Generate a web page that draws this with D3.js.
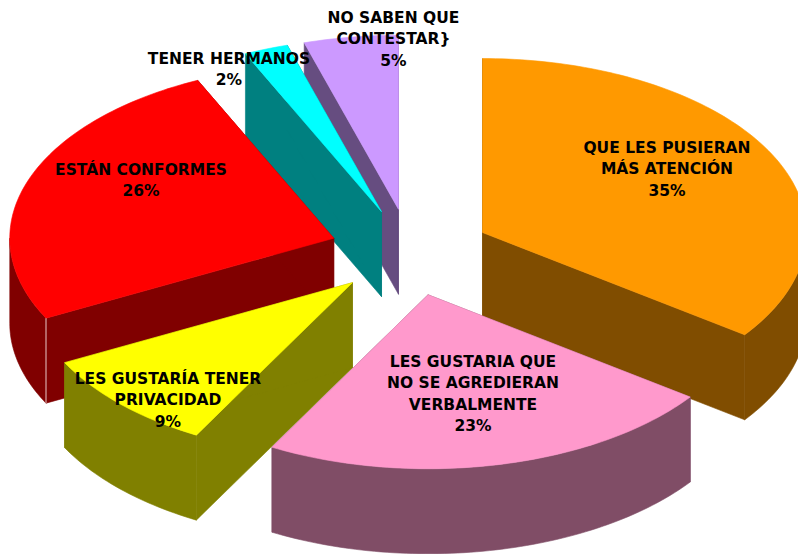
<!DOCTYPE html>
<html><head><meta charset="utf-8">
<script src="https://cdn.jsdelivr.net/npm/d3@7"></script>
<style>html,body{margin:0;padding:0;background:#fff}svg{display:block}
text{font-family:"DejaVu Sans",sans-serif;font-weight:bold;fill:#000;text-anchor:middle}</style>
</head><body><div id="chart"></div>
<script>
// Data
const categories = ["QUE LES PUSIERAN MÁS ATENCIÓN","LES GUSTARIA QUE NO SE AGREDIERAN VERBALMENTE","LES GUSTARÍA TENER PRIVACIDAD","ESTÁN CONFORMES","TENER HERMANOS","NO SABEN QUE CONTESTAR}"];
const values = [35,23,9.4,25.7,2.2,4.7];
const topColors = ["#FF9900","#FF99CC","#FFFF00","#FF0000","#00FFFF","#CC99FF"];
const sideColors = ["#804D00","#804D66","#808000","#800000","#008080","#664D80"];
const labelLines = [["QUE LES PUSIERAN","MÁS ATENCIÓN"],["LES GUSTARIA QUE","NO SE AGREDIERAN","VERBALMENTE"],["LES GUSTARÍA TENER","PRIVACIDAD"],["ESTÁN CONFORMES"],["TENER HERMANOS"],["NO SABEN QUE","CONTESTAR}"]];
// Layout (separate from data)
const W=798,H=554, cx=410.4, cy=252.3, rx=324, ry=174, depth=85, explode=0.25;
const labelPos=[[667,153],[473,367],[168,384],[141,175],[229,64],[393.5,23]];
const drawOrder=[5,4,3,0,2,1];

const svg=d3.select("#chart").append("svg").attr("width",W).attr("height",H);
const sx=d3.scaleLinear().domain([-1,1]).range([cx-rx,cx+rx]);
const sy=d3.scaleLinear().domain([-1,1]).range([cy-ry,cy+ry]);
const arcs=d3.pie().sort(null).value(d=>d)(values);
const line=d3.line().curve(d3.curveLinearClosed);

function geom(a){
  const mid=(a.startAngle+a.endAngle)/2;
  const ax=sx(explode*Math.sin(mid)), ay=sy(-explode*Math.cos(mid));
  const P=(t,dz=0,r=1)=>[ax+r*rx*Math.sin(t), ay-r*ry*Math.cos(t)+dz];
  const samples=(t0,t1)=>{const n=Math.max(2,Math.ceil((t1-t0)/0.02));return d3.range(n+1).map(i=>t0+(t1-t0)*i/n);};
  return {P,samples,apex:[ax,ay]};
}
drawOrder.forEach(i=>{
  const a=arcs[i], g=geom(a), {P,samples,apex}=g, s=a.startAngle, e=a.endAngle;
  const gs=svg.append("g");
  const wall=pts=>gs.append("path").attr("d",line(pts)).attr("fill",sideColors[i]).attr("stroke",sideColors[i]).attr("stroke-width",0.6);
  [s,e].forEach(t=>{
    const tip=P(t), base=[apex[0],apex[1]+depth];
    wall([apex,tip,[tip[0],tip[1]+depth],base]);
  });
  const f0=Math.max(s,Math.PI/2), f1=Math.min(e,3*Math.PI/2);
  if(f1>f0){
    const ts=samples(f0,f1);
    wall(ts.map(t=>P(t)).concat(ts.slice().reverse().map(t=>P(t,depth))));
  }
  const top=[apex].concat(samples(s,e).map(t=>P(t)));
  gs.append("path").attr("d",line(top)).attr("fill",topColors[i]).attr("stroke",topColors[i]).attr("stroke-width",0.6);
  if(i===3){
    const tip=P(s);
    gs.append("line").attr("x1",tip[0]).attr("x2",tip[0]).attr("y1",tip[1]).attr("y2",tip[1]+depth).attr("stroke","#e8c8c8").attr("stroke-width",1);
  }
});
const fs=15.5, lh=21.3, fmt=d3.format(".0f");
values.forEach((v,i)=>{
  const t=svg.append("text").attr("font-size",fs).attr("x",labelPos[i][0]).attr("y",labelPos[i][1]);
  labelLines[i].concat([fmt(v)+"%"]).forEach((l,k)=>{
    t.append("tspan").attr("x",labelPos[i][0]).attr("dy",k?lh:0).text(l);
  });
});
</script></body></html>
